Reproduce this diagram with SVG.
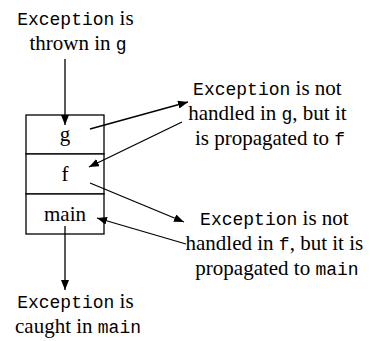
<svg xmlns="http://www.w3.org/2000/svg" width="370" height="341" viewBox="0 0 370 341">
  <style>
    text.t { font-family: 'Liberation Serif', serif; font-size: 21px; fill: #000; }
    tspan.mono { font-family: 'Liberation Mono', monospace; font-size: 18px; }
    .frame { fill: #fff; stroke: #000; stroke-width: 1.3; }
    .conn { stroke: #000; stroke-width: 1.3; fill: none; marker-end: url(#head); }
  </style>
  <defs>
    <marker id="head" markerUnits="userSpaceOnUse" markerWidth="10" markerHeight="8" refX="10" refY="4" orient="auto">
      <path d="M0,0 L10,4 L0,8 z" fill="#000"/>
    </marker>
  </defs>

  <rect width="370" height="341" fill="#fff"/>

  <!-- call stack frames -->
  <g id="frame-g">
    <rect class="frame" x="26" y="115" width="78" height="39"/>
    <text class="t" x="65" y="141" text-anchor="middle">g</text>
  </g>
  <g id="frame-f">
    <rect class="frame" x="26" y="154" width="78" height="40"/>
    <text class="t" x="65" y="181" text-anchor="middle">f</text>
  </g>
  <g id="frame-main">
    <rect class="frame" x="26" y="194" width="78" height="40"/>
    <text class="t" x="65" y="221" text-anchor="middle">main</text>
  </g>

  <!-- annotations -->
  <g id="note-thrown">
    <text class="t" text-anchor="middle">
      <tspan x="78" y="25"><tspan class="mono">Exception</tspan> is</tspan>
      <tspan x="78" y="50">thrown in <tspan class="mono">g</tspan></tspan>
    </text>
  </g>
  <g id="note-g">
    <text class="t" text-anchor="middle">
      <tspan x="270" y="95"><tspan class="mono">Exception</tspan> is not</tspan>
      <tspan x="270" y="120">handled in <tspan class="mono">g</tspan>, but it</tspan>
      <tspan x="270" y="145">is propagated to <tspan class="mono">f</tspan></tspan>
    </text>
  </g>
  <g id="note-f">
    <text class="t" text-anchor="middle">
      <tspan x="277" y="225"><tspan class="mono">Exception</tspan> is not</tspan>
      <tspan x="277" y="250">handled in <tspan class="mono">f</tspan>, but it is</tspan>
      <tspan x="277" y="275">propagated to <tspan class="mono">main</tspan></tspan>
    </text>
  </g>
  <g id="note-caught">
    <text class="t" text-anchor="middle">
      <tspan x="78" y="308"><tspan class="mono">Exception</tspan> is</tspan>
      <tspan x="78" y="333">caught in <tspan class="mono">main</tspan></tspan>
    </text>
  </g>

  <!-- connectors -->
  <g id="connectors">
    <line class="conn" x1="65" y1="59" x2="65" y2="125"/>
    <line class="conn" x1="90" y1="129" x2="188" y2="102"/>
    <line class="conn" x1="182" y1="122" x2="89" y2="167"/>
    <line class="conn" x1="90" y1="183" x2="184" y2="222"/>
    <line class="conn" x1="186" y1="244" x2="97" y2="218"/>
    <line class="conn" x1="65" y1="226" x2="65" y2="290"/>
  </g>
</svg>
